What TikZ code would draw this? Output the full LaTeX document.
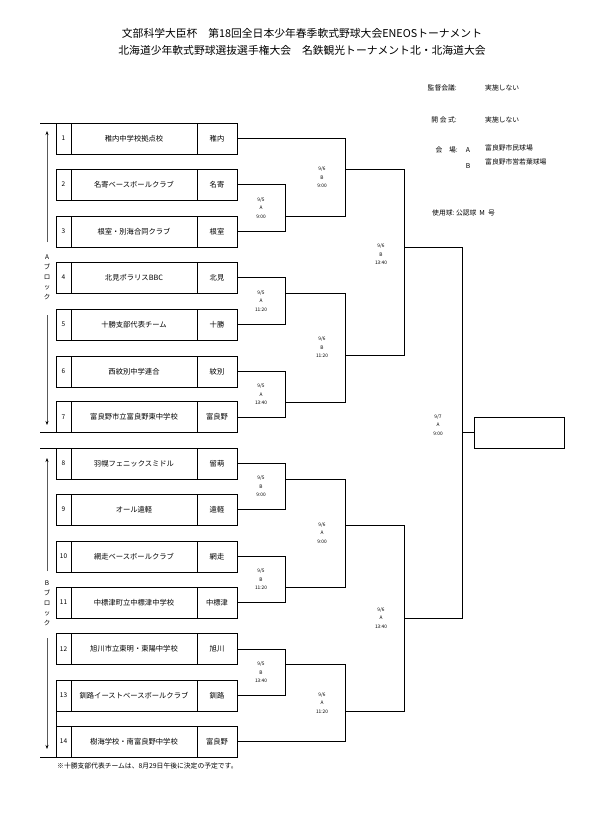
\documentclass[tikz,border=0pt]{standalone}
\usepackage{fontspec}
\setmainfont{Noto Sans CJK JP}
\usetikzlibrary{arrows.meta}
\tikzset{
  cell/.style={draw, line width=0.8pt, minimum height=31pt, inner sep=0pt, outer sep=0pt, anchor=west},
  numcell/.style={cell, minimum width=15pt, font=\fontsize{6.5}{7}\selectfont},
  namecell/.style={cell, minimum width=126pt, font=\fontsize{7.3}{8}\selectfont},
  shortcell/.style={cell, minimum width=40pt, font=\fontsize{7.3}{8}\selectfont},
  bracket/.style={line width=0.8pt},
  sched/.style={align=center, font=\fontsize{4.8}{8.5}\selectfont, inner sep=0pt},
  blockarrow/.style={draw=gray!70!black, line width=0.8pt, -{Stealth[length=4pt,width=3pt,black]}},
  blocktext/.style={align=center, font=\fontsize{6.5}{10}\selectfont, inner sep=0pt},
  info/.style={font=\fontsize{6.8}{8}\selectfont, inner sep=0pt},
}
\begin{document}
\begin{tikzpicture}[x=1pt,y=-1pt]
\useasboundingbox (0,0) rectangle (605,819);
\fill[white] (0,0) rectangle (605,819);

% title
\node[align=center, font=\fontsize{10.8}{17}\selectfont, inner sep=0pt] (title) at (302,41.5)
  {文部科学大臣杯　第18回全日本少年春季軟式野球大会ENEOSトーナメント\\北海道少年軟式野球選抜選手権大会　名鉄観光トーナメント北・北海道大会};

% info panel
\node[info, anchor=east] (l1) at (457,88) {監督会議:};
\node[info, anchor=west] (v1) at (485,88) {実施しない};
\node[info, anchor=east] (l2) at (457,120) {開 会 式:};
\node[info, anchor=west] (v2) at (485,120) {実施しない};
\node[info, anchor=east] (l3) at (458,150) {会　場:};
\node[info] (vA) at (468,150) {A};
\node[info, anchor=west] (vA2) at (485,148) {富良野市民球場};
\node[info] (vB) at (468,166) {B};
\node[info, anchor=west] (vB2) at (485,162) {富良野市営若葉球場};
\node[info, anchor=west] (l4) at (432,213) {使用球:\ 公認球 \ M \ 号};

% team rows
\foreach \i/\y/\nm/\sh in {
  1/138.5/稚内中学校拠点校/稚内,
  2/184.5/名寄ベースボールクラブ/名寄,
  3/231.5/根室・別海合同クラブ/根室,
  4/277.5/北見ポラリスBBC/北見,
  5/324.5/十勝支部代表チーム/十勝,
  6/371.5/西紋別中学連合/紋別,
  7/417/富良野市立富良野東中学校/富良野,
  8/463.5/羽幌フェニックスミドル/留萌,
  9/509.5/オール遠軽/遠軽,
  10/556.5/網走ベースボールクラブ/網走,
  11/602.5/中標津町立中標津中学校/中標津,
  12/649/旭川市立東明・東陽中学校/旭川,
  13/695.5/釧路イーストベースボールクラブ/釧路,
  14/741.5/樹海学校・南富良野中学校/富良野}{
  \node[numcell] (n\i) at (56,\y) {\i};
  \node[namecell] (t\i) at (n\i.east) {\nm};
  \node[shortcell] (s\i) at (t\i.east) {\sh};
}

% block separators
\coordinate (sepA1) at (40,123);
\coordinate (sepA2) at (40,432.5);
\coordinate (sepB1) at (40,448);
\coordinate (sepB2) at (40,757);
\draw[bracket] (sepA1) -- (n1.north west);
\draw[bracket] (sepA2) -- (n7.south west);
\draw[bracket] (sepB1) -- (n8.north west);
\draw[bracket] (sepB2) -- (n14.south west);
\draw[bracket] (n13.south west) -- (n14.north west);

% block arrows and labels
\node[blocktext] (blkA) at (47,277) {A\\ブ\\ロ\\ッ\\ク};
\node[blocktext] (blkB) at (47,603) {B\\ブ\\ロ\\ッ\\ク};
\coordinate (aUs) at (47,242); \coordinate (aUe) at (47,131);
\coordinate (aDs) at (47,315); \coordinate (aDe) at (47,425);
\coordinate (bUs) at (47,571); \coordinate (bUe) at (47,458);
\coordinate (bDs) at (47,638); \coordinate (bDe) at (47,749);
\draw[blockarrow] (aUs) -- (aUe);
\draw[blockarrow] (aDs) -- (aDe);
\draw[blockarrow] (bUs) -- (bUe);
\draw[blockarrow] (bDs) -- (bDe);

% junctions
\coordinate (j23) at (285,216);
\coordinate (j45) at (285,293);
\coordinate (j67) at (285,402);
\coordinate (j13) at (345,169);
\coordinate (j47) at (345,355);
\coordinate (jA)  at (404,247);
\coordinate (j89) at (285,479);
\coordinate (j1011) at (285,587);
\coordinate (j1213) at (285,664);
\coordinate (j811) at (345,525);
\coordinate (j1214) at (345,711);
\coordinate (jB)  at (404,618);
\coordinate (jF)  at (462,432.5);

% first round
\draw[bracket] (s2.east) -| (j23);
\draw[bracket] (s3.east) -| (j23);
\draw[bracket] (s4.east) -| (j45);
\draw[bracket] (s5.east) -| (j45);
\draw[bracket] (s6.east) -| (j67);
\draw[bracket] (s7.east) -| (j67);
\draw[bracket] (s8.east) -| (j89);
\draw[bracket] (s9.east) -| (j89);
\draw[bracket] (s10.east) -| (j1011);
\draw[bracket] (s11.east) -| (j1011);
\draw[bracket] (s12.east) -| (j1213);
\draw[bracket] (s13.east) -| (j1213);
% second round
\draw[bracket] (s1.east) -| (j13);
\draw[bracket] (j23) -| (j13);
\draw[bracket] (j45) -| (j47);
\draw[bracket] (j67) -| (j47);
\draw[bracket] (j89) -| (j811);
\draw[bracket] (j1011) -| (j811);
\draw[bracket] (j1213) -| (j1214);
\draw[bracket] (s14.east) -| (j1214);
% semi
\draw[bracket] (j13) -| (jA);
\draw[bracket] (j47) -| (jA);
\draw[bracket] (j811) -| (jB);
\draw[bracket] (j1214) -| (jB);
% final
\draw[bracket] (jA) -| (jF);
\draw[bracket] (jB) -| (jF);
\node[draw, line width=0.8pt, minimum width=90pt, minimum height=31pt, inner sep=0pt] (final) at (519,432.5) {};
\draw[bracket] (jF) -- (final.west);

% schedule labels
\node[sched] (m23) at (261,208) {9/5\\A\\9:00};
\node[sched] (m45) at (261,301) {9/5\\A\\11:20};
\node[sched] (m67) at (261,394.5) {9/5\\A\\13:40};
\node[sched] (m13) at (322,177.5) {9/6\\B\\9:00};
\node[sched] (m47) at (322,347.5) {9/6\\B\\11:20};
\node[sched] (mA) at (381,254.5) {9/6\\B\\13:40};
\node[sched] (mF) at (438,425) {9/7\\A\\9:00};
\node[sched] (m89) at (261,486.5) {9/5\\B\\9:00};
\node[sched] (m1011) at (261,579.5) {9/5\\B\\11:20};
\node[sched] (m1213) at (261,672.5) {9/5\\B\\13:40};
\node[sched] (m811) at (322,533) {9/6\\A\\9:00};
\node[sched] (m1214) at (322,703) {9/6\\A\\11:20};
\node[sched] (mB) at (381,618) {9/6\\A\\13:40};

% footnote
\node[info, anchor=west] (foot) at (57,766) {※十勝支部代表チームは、8月29日午後に決定の予定です。};
\end{tikzpicture}
\end{document}
